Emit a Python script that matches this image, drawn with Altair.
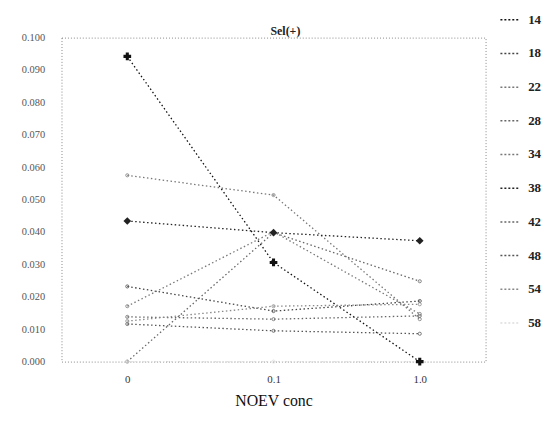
import altair as alt
import pandas as pd

conc = ["0", "0.1", "1.0"]
series = ["14", "18", "22", "28", "34", "38", "42", "48", "54", "58"]
s14 = [0.0942, 0.0306, 0.0000]
s18 = [0.0232, 0.0156, 0.0187]
s22 = [0.0575, 0.0514, 0.0131]
s28 = [0.0000, 0.0398, 0.0248]
s34 = [0.0171, 0.0401, 0.0147]
s38 = [0.0434, 0.0398, 0.0373]
s42 = [0.0138, 0.0131, 0.0141]
s48 = [0.0116, 0.0095, 0.0086]
s54 = [0.0125, 0.0171, 0.0177]
s58 = [0.0000, 0.0000, 0.0000]
all_vals = [s14, s18, s22, s28, s34, s38, s42, s48, s54, s58]

rows = []
for name, vals in zip(series, all_vals):
    for c, v in zip(conc, vals):
        rows.append({"conc": c, "series": name, "mk": name, "value": v})
df = pd.DataFrame(rows)

colors = ["#111111", "#444444", "#777777", "#666666", "#777777",
          "#222222", "#666666", "#555555", "#888888", "#dddddd"]
mk_series = ["14", "38"]
mk_shapes = ["cross", "diamond"]
mk_colors = ["#111111", "#222222"]

x = alt.X("conc:N", sort=conc, title="NOEV conc",
          scale=alt.Scale(type="point", padding=0.45),
          axis=alt.Axis(labelAngle=0, domain=False, ticks=False, grid=False,
                        labelFont="Liberation Serif", labelFontSize=11,
                        labelColor="#333333", labelPadding=12,
                        titleFont="Liberation Serif", titleFontSize=16,
                        titleFontWeight="normal", titleColor="#111111",
                        titlePadding=8))
y = alt.Y("value:Q", title=None,
          scale=alt.Scale(domain=[0, 0.1], nice=False, zero=True),
          axis=alt.Axis(values=[i / 100 for i in range(11)], format=".3f",
                        domain=False, ticks=False, grid=False,
                        labelFont="Liberation Serif", labelFontSize=10.5,
                        labelColor="#555555", labelPadding=17))
color = alt.Color("series:N", sort=series,
                  scale=alt.Scale(domain=series, range=colors),
                  legend=alt.Legend(title=None, orient="none",
                                    legendX=442, legendY=-29,
                                    symbolType="stroke", symbolSize=400,
                                    symbolStrokeWidth=1.5, symbolDash=[2, 2],
                                    labelFont="Liberation Serif",
                                    labelFontSize=13, labelFontWeight="bold",
                                    labelColor="#222222", rowPadding=16,
                                    labelOffset=7))

base = alt.Chart(df)
lines = base.mark_line(strokeDash=[1.5, 2.5], strokeWidth=1.3).encode(
    x=x, y=y, color=color)
small = base.mark_point(size=10, strokeWidth=1, opacity=0.8).encode(
    x=x, y=y,
    stroke=alt.Stroke("mk:N", scale=alt.Scale(domain=series, range=colors), legend=None))
big = base.transform_filter(
    alt.FieldOneOfPredicate(field="mk", oneOf=mk_series)
).mark_point(filled=True, opacity=1, size=60).encode(
    x=x, y=y,
    fill=alt.Fill("mk:N", scale=alt.Scale(domain=mk_series, range=mk_colors), legend=None),
    shape=alt.Shape("mk:N", scale=alt.Scale(domain=mk_series, range=mk_shapes), legend=None))

chart = alt.layer(lines, small, big).resolve_scale(
    color="independent", stroke="independent", fill="independent", shape="independent"
).properties(
    width=428, height=327,
    title=alt.Title("Sel(+)", font="Liberation Serif", fontSize=12,
                    fontWeight="bold", color="#222222", offset=-29, dx=12),
    autosize=alt.AutoSizeParams(type="none"),
    padding={"left": 54, "top": 28, "right": 60, "bottom": 50},
).configure_view(stroke="#888888", strokeDash=[1, 2], strokeWidth=1)

chart.save("out.html", embed_options={"renderer": "svg", "actions": False})
